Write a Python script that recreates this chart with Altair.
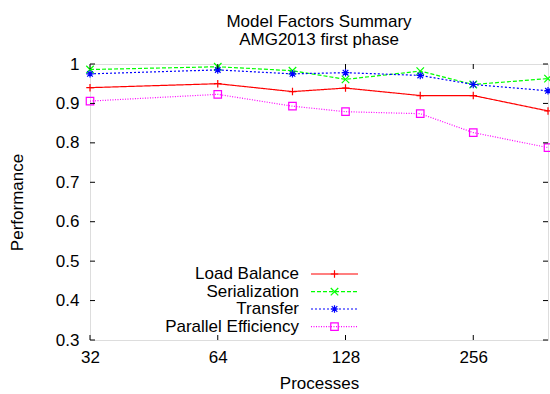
import altair as alt
import pandas as pd

processes = [32, 64, 96, 128, 192, 256, 384]
load_balance = [0.940, 0.950, 0.930, 0.939, 0.920, 0.920, 0.881]
serialization = [0.986, 0.993, 0.983, 0.961, 0.982, 0.948, 0.963]
transfer = [0.975, 0.985, 0.975, 0.978, 0.971, 0.948, 0.932]
parallel_eff = [0.906, 0.923, 0.893, 0.879, 0.874, 0.826, 0.788]

series_names = ["Load Balance", "Serialization", "Transfer", "Parallel Efficiency"]
series_values = [load_balance, serialization, transfer, parallel_eff]
colors = ["#ff0000", "#00ff00", "#0000ff", "#ff00ff"]
dashes = [[1, 0], [4, 2], [2, 2], [1, 1.5]]
shapes = [
    "M-1,0L1,0M0,-1L0,1",
    "M-1,-1L1,1M-1,1L1,-1",
    "M-1,0L1,0M0,-1L0,1M-0.75,-0.75L0.75,0.75M-0.75,0.75L0.75,-0.75",
    "M-1,-1L1,-1L1,1L-1,1Z",
]

x_ticks = [32, 64, 128, 256]
y_ticks = [0.3, 0.4, 0.5, 0.6, 0.7, 0.8, 0.9, 1.0]

FONT = "Liberation Sans"
W, H = 458, 276

rows = []
for name, vals in zip(series_names, series_values):
    for p, v in zip(processes, vals):
        rows.append({"Processes": p, "Performance": v, "series": name})
df = pd.DataFrame(rows)

xscale = alt.Scale(type="log", base=2, domain=[32, 384], nice=False)
yscale = alt.Scale(domain=[0.3, 1.0], nice=False, zero=False)

x_axis = alt.Axis(values=x_ticks, title="Processes", ticks=False, domain=False, grid=False,
                  labelFlush=False, labelOverlap=False, labelFontSize=17, titleFontSize=17, labelPadding=9,
                  titlePadding=10, titleFontWeight="normal", labelColor="black", titleColor="black",
                  labelFont=FONT, titleFont=FONT, format="d")
y_axis = alt.Axis(values=y_ticks, title="Performance", ticks=False, domain=False, grid=False,
                  labelFlush=False, labelOverlap=False, labelFontSize=17, titleFontSize=17, labelPadding=11,
                  titlePadding=29, titleFontWeight="normal", labelColor="black", titleColor="black",
                  labelFont=FONT, titleFont=FONT, format=".1~f")

color_scale = alt.Scale(domain=series_names, range=colors)
dash_scale = alt.Scale(domain=series_names, range=dashes)
shape_scale = alt.Scale(domain=series_names, range=shapes)

lines = alt.Chart(df).mark_line(strokeWidth=1.2).encode(
    x=alt.X("Processes:Q", scale=xscale, axis=x_axis),
    y=alt.Y("Performance:Q", scale=yscale, axis=y_axis),
    color=alt.Color("series:N", scale=color_scale, legend=None),
    strokeDash=alt.StrokeDash("series:N", scale=dash_scale, legend=None),
    detail="series:N",
)
points = alt.Chart(df).mark_point(filled=False, size=56, strokeWidth=1.2, opacity=1).encode(
    x=alt.X("Processes:Q", scale=xscale, axis=x_axis),
    y=alt.Y("Performance:Q", scale=yscale, axis=y_axis),
    color=alt.Color("series:N", scale=color_scale, legend=None),
    shape=alt.Shape("series:N", scale=shape_scale, legend=None),
)

xt = pd.DataFrame({"t": x_ticks})
yt = pd.DataFrame({"t": y_ticks})
TL = 5
xtick_b = alt.Chart(xt).mark_rule(color="black").encode(
    x=alt.X("t:Q", scale=xscale, axis=x_axis), y=alt.value(H), y2=alt.value(H - TL))
xtick_t = alt.Chart(xt).mark_rule(color="black").encode(
    x=alt.X("t:Q", scale=xscale, axis=x_axis), y=alt.value(0), y2=alt.value(TL))
ytick_l = alt.Chart(yt).mark_rule(color="black").encode(
    y=alt.Y("t:Q", scale=yscale, axis=y_axis), x=alt.value(0), x2=alt.value(TL))
ytick_r = alt.Chart(yt).mark_rule(color="black").encode(
    y=alt.Y("t:Q", scale=yscale, axis=y_axis), x=alt.value(W), x2=alt.value(W - TL))

legend_layers = []
row_y = [210, 227.7, 245, 262.7]
for i, name in enumerate(series_names):
    ld = pd.DataFrame({"series": [name]})
    legend_layers.append(
        alt.Chart(ld).mark_text(align="right", baseline="middle", fontSize=17, font=FONT, color="black")
        .encode(text="series:N", x=alt.value(209), y=alt.value(row_y[i]))
    )
    legend_layers.append(
        alt.Chart(ld).mark_rule(strokeWidth=1.2, color=colors[i], strokeDash=dashes[i])
        .encode(x=alt.value(221), x2=alt.value(268), y=alt.value(row_y[i]))
    )
    legend_layers.append(
        alt.Chart(ld).mark_point(filled=False, size=56, strokeWidth=1.2, opacity=1, color=colors[i], shape=shapes[i])
        .encode(x=alt.value(244.5), y=alt.value(row_y[i]))
    )

chart = alt.layer(lines, points, xtick_b, xtick_t, ytick_l, ytick_r, *legend_layers).properties(
    width=W, height=H,
    title=alt.TitleParams(
        text=["Model Factors Summary", "AMG2013 first phase"],
        fontSize=17, fontWeight="normal", font=FONT, color="black",
        anchor="middle", frame="group", offset=6, lineHeight=18,
    ),
    autosize=alt.AutoSizeParams(type="none"),
    padding={"left": 90, "top": 64, "right": 2, "bottom": 54},
).configure_view(stroke="black", strokeWidth=1.2).configure_axis(labelOverlap=False).configure(background="white")

chart.save("out.html", embed_options={"renderer": "svg", "actions": False})
